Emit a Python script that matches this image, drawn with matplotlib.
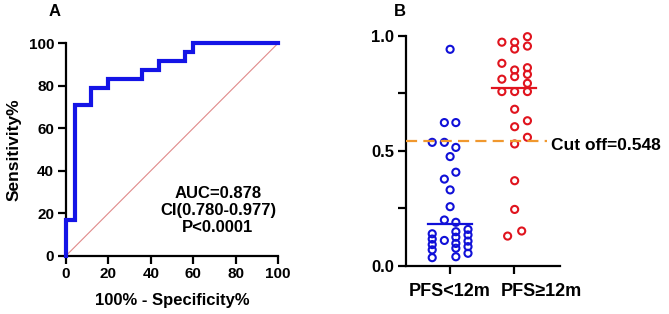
import numpy as np
import matplotlib
matplotlib.use("Agg")
import matplotlib.pyplot as plt
from matplotlib.transforms import ScaledTranslation

plt.rcParams["font.family"] = ["Liberation Sans", "DejaVu Sans"]
plt.rcParams["font.weight"] = "bold"

# ROC curve (panel A), in percent
roc_fpr = [0, 0, 4, 4, 12, 12, 20, 20, 36, 36, 44, 44, 56, 56, 60, 60, 100]
roc_tpr = [0, 16.7, 16.7, 70.8, 70.8, 79.2, 79.2, 83.3, 83.3, 87.5, 87.5,
           91.7, 91.7, 95.8, 95.8, 100, 100]
auc_text = "AUC=0.878\nCI(0.780-0.977)\nP<0.0001"

# scatter (panel B)
groups = ["PFS<12m", "PFS\u226512m"]
low_vals = [0.942, 0.623, 0.623, 0.537, 0.537, 0.515, 0.475, 0.407, 0.377,
            0.330, 0.257, 0.199, 0.189,
            0.139, 0.116, 0.092, 0.069, 0.035,
            0.110,
            0.148, 0.124, 0.097, 0.076, 0.039,
            0.158, 0.134, 0.107, 0.083, 0.054]
low_jitter = [0, -0.09, 0.09, -0.28, -0.09, 0.09, 0, 0.09, -0.09,
              0, 0, -0.09, 0.09,
              -0.28, -0.28, -0.28, -0.28, -0.28,
              -0.09,
              0.09, 0.09, 0.09, 0.09, 0.09,
              0.28, 0.28, 0.28, 0.28, 0.28]
high_vals = [0.973, 0.881, 0.812, 0.758,
             0.973, 0.943, 0.852, 0.823, 0.758, 0.681, 0.605, 0.530, 0.370, 0.245,
             0.997, 0.956, 0.862, 0.833, 0.794, 0.758, 0.631, 0.559,
             0.129, 0.151]
high_jitter = [-0.19, -0.19, -0.19, -0.19,
               0.01, 0.01, 0.01, 0.01, 0.01, 0.01, 0.01, 0.01, 0.01, 0.01,
               0.21, 0.21, 0.21, 0.21, 0.21, 0.21, 0.21, 0.21,
               -0.1, 0.12]
medians = [0.18, 0.775]
cutoff = 0.542
cutoff_label = "Cut off=0.548"

blue = "#1010d8"
red = "#e0141e"

fig = plt.figure(figsize=(6.69, 3.14), dpi=100)

# ---- panel A
ax1 = fig.add_axes([0.0987, 0.1857, 0.3168, 0.6763])
ax1.plot([0, 100], [0, 100], color="#e08a8a", lw=0.8, zorder=1)
ax1.plot(roc_fpr, roc_tpr, color="#1414e6", lw=3, zorder=3, clip_on=False,
         solid_joinstyle="miter")
ax1.set_xlim(0, 100)
ax1.set_ylim(0, 100)
ax1.set_xticks(np.arange(0, 101, 20))
ax1.set_yticks(np.arange(0, 101, 20))
ax1.set_xlabel("100% - Specificity%", fontsize=12, fontweight="bold", labelpad=8)
ax1.set_ylabel("Sensitivity%", fontsize=12.5, fontweight="bold", labelpad=5)
ax1.text(71.7, 21.3, auc_text, ha="center", va="center", fontsize=12,
         fontweight="bold", linespacing=1.15)

# ---- panel B
ax2 = fig.add_axes([0.6069, 0.1538, 0.2302, 0.7316])
ax2.scatter([1 + j for j in low_jitter], low_vals, s=26, facecolors="none",
            edgecolors=blue, linewidths=1.5, zorder=3, clip_on=False)
ax2.scatter([2 + j for j in high_jitter], high_vals, s=26, facecolors="none",
            edgecolors=red, linewidths=1.5, zorder=3, clip_on=False)
for i, (m, c) in enumerate(zip(medians, [blue, red])):
    ax2.plot([i + 1 - 0.34, i + 1 + 0.34], [m, m], color=c, lw=1.6, zorder=4)
ax2.plot([0.31, 2.52], [cutoff, cutoff], color="#f0982e", lw=1.6,
         dashes=(5, 2.8), zorder=5, clip_on=False)
ax2.text(2.58, cutoff - 0.02, cutoff_label, ha="left", va="center",
         fontsize=12.5, fontweight="bold")
ax2.set_xlim(0.31, 2.72)
ax2.set_ylim(0, 1)
ax2.set_xticks([1, 2])
ax2.set_xticklabels(groups)
ax2.set_yticks([0, 0.25, 0.5, 0.75, 1.0])
ax2.set_yticklabels(["0.0", "", "0.5", "", "1.0"])

for ax in (ax1, ax2):
    for side in ("top", "right"):
        ax.spines[side].set_visible(False)
    for side in ("left", "bottom"):
        ax.spines[side].set_linewidth(1.6)
    ax.tick_params(width=1.6, length=5.5, labelsize=11, pad=3)
    for lab in ax.get_xticklabels() + ax.get_yticklabels():
        lab.set_fontweight("bold")

ax2.tick_params(axis="y", labelsize=12)
ax2.tick_params(axis="x", labelsize=13, pad=7)
# second group label sits a bit right of its tick, as in the original
lab2 = ax2.get_xticklabels()[1]
lab2.set_transform(lab2.get_transform() + ScaledTranslation(0.27, 0, fig.dpi_scale_trans))

fig.text(0.082, 0.962, "A", fontsize=12, fontweight="bold", ha="center", va="center")
fig.text(0.598, 0.962, "B", fontsize=12, fontweight="bold", ha="center", va="center")

fig.savefig("out.png", dpi=100)
